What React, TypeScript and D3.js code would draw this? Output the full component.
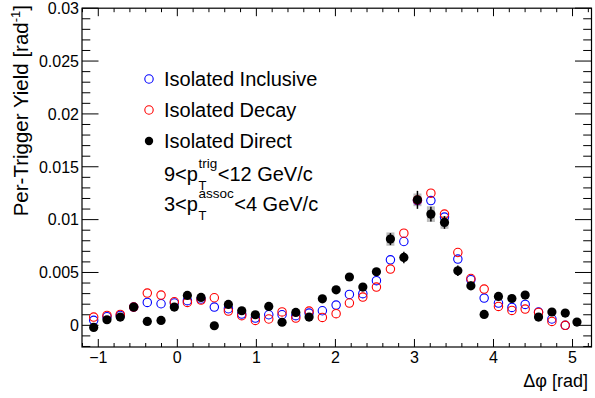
import React, { useEffect, useRef } from "react";
import * as d3 from "d3";

const W = 595;
const H = 398;

// Δφ bin centres (rad)
const phi = [
  -1.058, -0.89, -0.722, -0.552, -0.38, -0.206, -0.038, 0.127, 0.3, 0.468,
  0.646, 0.815, 0.987, 1.157, 1.325, 1.499, 1.667, 1.835, 2.009, 2.177,
  2.347, 2.519, 2.696, 2.866, 3.038, 3.208, 3.38, 3.549, 3.714, 3.882,
  4.063, 4.233, 4.401, 4.57, 4.739, 4.908, 5.056,
];

const direct = [
  -0.0002, 0.00053, 0.00078, 0.00173, 0.00037, 0.00046, 0.00173, 0.00283, 0.00264, -0.00004,
  0.00198, 0.00138, 0.001, 0.00179, 0.00029, 0.00122, 0.00078, 0.00251, 0.00336, 0.00457,
  0.00362, 0.00507, 0.00816, 0.00642, 0.01187, 0.01052, 0.00973, 0.00516, 0.00374, 0.00103,
  0.00273, 0.00254, 0.00286, 0.00078, 0.00126, 0.00116, 0.00031,
];
const directStat = [
  0.0003, 0.0003, 0.0003, 0.0003, 0.0003, 0.0003, 0.0003, 0.0003, 0.0003, 0.0003,
  0.0003, 0.0003, 0.0003, 0.0003, 0.0003, 0.0003, 0.0003, 0.0003, 0.0003, 0.0003,
  0.0003, 0.0003, 0.00057, 0.00055, 0.00085, 0.0007, 0.0006, 0.0005, 0.0004, 0.0003,
  0.0003, 0.0003, 0.0003, 0.0003, 0.0003, 0.0003, 0.0003,
];
const directSys = [
  0, 0, 0, 0, 0, 0, 0, 0, 0, 0,
  0, 0, 0, 0, 0, 0, 0, 0, 0, 0,
  0, 0, 0.00063, 0, 0.0006, 0.00074, 0.0006, 0, 0, 0,
  0, 0, 0, 0, 0, 0, 0,
];

const inclusive = [
  0.00047, 0.00081, 0.00094, 0.00173, 0.00217, 0.00204, 0.00211, 0.00233, 0.00249, 0.00173,
  0.00157, 0.00107, 0.00069, 0.001, 0.001, 0.00091, 0.00116, 0.00138, 0.00192, 0.00292,
  0.00299, 0.00422, 0.0062, 0.00793, 0.0118, 0.0118, 0.01024, 0.00627, 0.00431, 0.00258,
  0.00211, 0.00169, 0.00198, 0.00126, 0.0006, 0.0,
];

const decay = [
  0.00078, 0.00094, 0.00103, 0.00173, 0.00305, 0.00286, 0.00223, 0.00217, 0.00239, 0.00261,
  0.00135, 0.00091, 0.00046, 0.0006, 0.00127, 0.00069, 0.00135, 0.00075, 0.0011, 0.00211,
  0.00267, 0.00362, 0.00532, 0.00872, 0.01185, 0.0125, 0.01052, 0.00689, 0.00443, 0.00343,
  0.00179, 0.00141, 0.00154, 0.00122, 0.00037, 0.0,
];

const yTickValues = [0, 0.005, 0.01, 0.015, 0.02, 0.025, 0.03];
const yTickLabels = ["0", "0.005", "0.01", "0.015", "0.02", "0.025", "0.03"];
const xTickValues = [-1, 0, 1, 2, 3, 4, 5];
const xTickLabels = ["\u22121", "0", "1", "2", "3", "4", "5"];

const legendLabels = ["Isolated Inclusive", "Isolated Decay", "Isolated Direct"];
const legendColors = ["#0000ff", "#ff0000", "#000000"];
const legendFilled = [false, false, true];

const FONT = '"Liberation Sans", Arial, Helvetica, sans-serif';

export default function App() {
  const ref = useRef<SVGSVGElement>(null);

  useEffect(() => {
    const svg = d3.select(ref.current);
    svg.selectAll("*").remove();

    const L = 82, R = 591.5, T = 8.2, B = 347;
    const x = d3.scaleLinear().domain([-1.206, 5.24]).range([L, R]);
    const y = d3.scaleLinear().domain([-0.00205, 0.03]).range([B, T]);

    const g = svg.append("g");

    // ticks
    const xMinor = d3.range(-6, 27).map((i) => i * 0.2).filter((v) => v >= -1.206 && v <= 5.24);
    xMinor.forEach((v) => {
      const major = Math.abs(v - Math.round(v)) < 1e-6;
      const len = major ? 8 : 4;
      const px = x(v);
      g.append("line").attr("x1", px).attr("x2", px).attr("y1", B).attr("y2", B - len)
        .attr("stroke", "#000").attr("stroke-width", 1);
      g.append("line").attr("x1", px).attr("x2", px).attr("y1", T).attr("y2", T + len)
        .attr("stroke", "#000").attr("stroke-width", 1);
    });
    const yMinor = d3.range(-2, 31).map((i) => i * 0.001);
    yMinor.forEach((v, i) => {
      const major = (i - 2) % 5 === 0;
      const len = major ? 16.5 : 8.3;
      const py = y(v);
      g.append("line").attr("x1", L).attr("x2", L + len).attr("y1", py).attr("y2", py)
        .attr("stroke", "#000").attr("stroke-width", 1);
      g.append("line").attr("x1", R).attr("x2", R - len).attr("y1", py).attr("y2", py)
        .attr("stroke", "#000").attr("stroke-width", 1);
    });

    // frame
    g.append("rect").attr("x", L).attr("y", T).attr("width", R - L).attr("height", B - T)
      .attr("fill", "none").attr("stroke", "#000").attr("stroke-width", 1.2);

    // tick labels
    yTickValues.forEach((v, i) => {
      g.append("text").attr("x", 79).attr("y", y(v)).attr("dy", "0.36em")
        .attr("text-anchor", "end").attr("font-size", 16).attr("font-family", FONT)
        .text(yTickLabels[i]);
    });
    xTickValues.forEach((v, i) => {
      g.append("text").attr("x", x(v)).attr("y", 363)
        .attr("text-anchor", "middle").attr("font-size", 16).attr("font-family", FONT)
        .text(xTickLabels[i]);
    });

    // axis titles
    g.append("text").attr("x", 588).attr("y", 387).attr("text-anchor", "end")
      .attr("font-size", 18).attr("font-family", FONT).text("\u0394\u03c6 [rad]");
    const yt = g.append("text").attr("transform", "translate(28,5) rotate(-90)")
      .attr("text-anchor", "end").attr("font-size", 20.5).attr("font-family", FONT);
    yt.append("tspan").text("Per-Trigger Yield [rad");
    yt.append("tspan").attr("font-size", 13).attr("dy", -8).text("-1");
    yt.append("tspan").attr("dy", 8).text("]");

    // systematic boxes
    phi.forEach((p, i) => {
      const s = directSys[i];
      if (s > 0) {
        g.append("rect").attr("x", x(p) - 4).attr("width", 8)
          .attr("y", y(direct[i] + s)).attr("height", y(direct[i] - s) - y(direct[i] + s))
          .attr("fill", "#bdbdbd");
      }
    });

    // inclusive (blue open)
    inclusive.forEach((v, i) => {
      g.append("circle").attr("cx", x(phi[i])).attr("cy", y(v)).attr("r", 4.2)
        .attr("fill", "none").attr("stroke", "#0000ff").attr("stroke-width", 1.1);
    });
    // decay (red open)
    decay.forEach((v, i) => {
      g.append("circle").attr("cx", x(phi[i])).attr("cy", y(v)).attr("r", 4.2)
        .attr("fill", "none").attr("stroke", "#ff0000").attr("stroke-width", 1.1);
    });
    // direct (black filled + stat err)
    direct.forEach((v, i) => {
      const e = directStat[i];
      g.append("line").attr("x1", x(phi[i])).attr("x2", x(phi[i]))
        .attr("y1", y(v - e)).attr("y2", y(v + e)).attr("stroke", "#000").attr("stroke-width", 1.5);
      g.append("circle").attr("cx", x(phi[i])).attr("cy", y(v)).attr("r", 4.6).attr("fill", "#000");
    });

    // legend
    const rowBase = [86, 117, 148];
    legendLabels.forEach((lab, i) => {
      const cy = rowBase[i] - 7;
      if (legendFilled[i]) {
        g.append("circle").attr("cx", 149).attr("cy", cy).attr("r", 4.2).attr("fill", legendColors[i]);
      } else {
        g.append("circle").attr("cx", 149).attr("cy", cy).attr("r", 4.2).attr("fill", "none")
          .attr("stroke", legendColors[i]).attr("stroke-width", 1.1);
      }
      g.append("text").attr("x", 164).attr("y", rowBase[i]).attr("font-size", 20)
        .attr("font-family", FONT).text(lab);
    });

    const kinLines = [
      { pre: "9<p", sup: "trig", post: "<12 GeV/c", base: 180.5 },
      { pre: "3<p", sup: "assoc", post: "<4 GeV/c", base: 210.5 },
    ];
    kinLines.forEach((k) => {
      const t1 = g.append("text").attr("x", 164).attr("y", k.base).attr("font-size", 20)
        .attr("font-family", FONT).text(k.pre);
      const w1 = (t1.node() as SVGTextElement).getComputedTextLength();
      const xs = 164 + w1 + 0.5;
      const t2 = g.append("text").attr("x", xs).attr("y", k.base - 12.5).attr("font-size", 13.5)
        .attr("font-family", FONT).text(k.sup);
      g.append("text").attr("x", xs).attr("y", k.base + 9).attr("font-size", 13)
        .attr("font-family", FONT).text("T");
      const w2 = (t2.node() as SVGTextElement).getComputedTextLength();
      g.append("text").attr("x", xs + w2 + 0.5).attr("y", k.base).attr("font-size", 20)
        .attr("font-family", FONT).text(k.post);
    });
  }, []);

  return (
    <svg
      ref={ref}
      width={W}
      height={H}
      style={{ position: "absolute", left: 0, top: 0, background: "#fff" }}
    />
  );
}
